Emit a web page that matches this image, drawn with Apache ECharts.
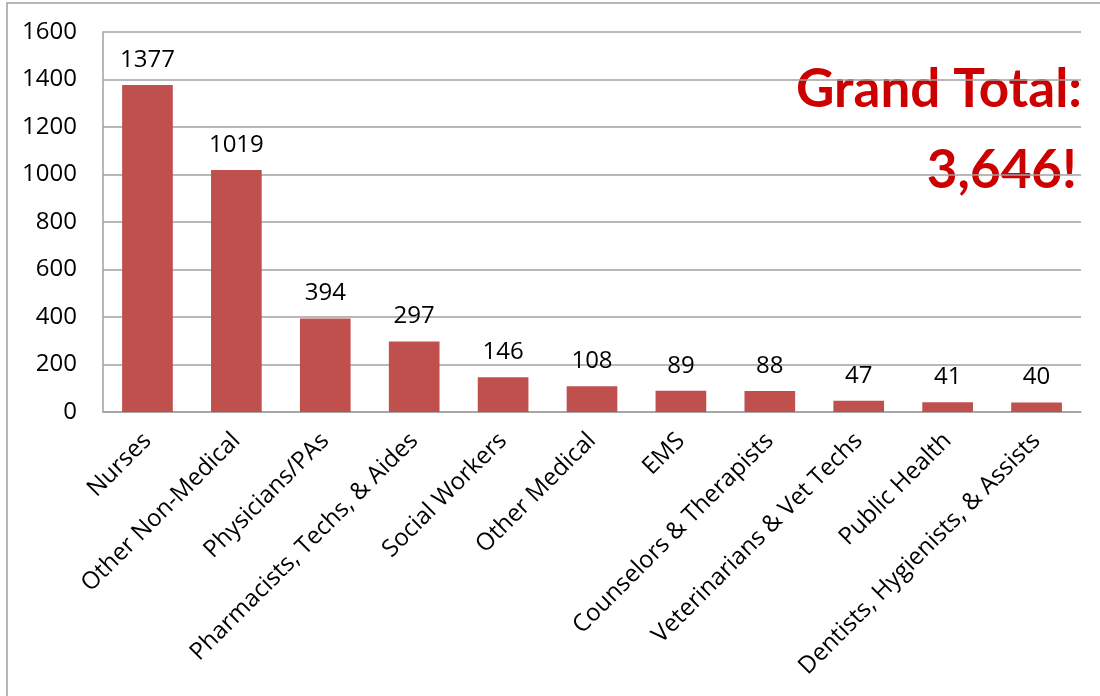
<!DOCTYPE html>
<html>
<head>
<meta charset="utf-8">
<script src="https://cdn.jsdelivr.net/npm/echarts@6/dist/echarts.min.js"></script>
<style>
  html, body { margin: 0; padding: 0; background: #fff; }
  #chart { width: 1100px; height: 696px; }
</style>
</head>
<body>
<div id="chart"></div>
<script>
// categories and counts
const categories = [
  'Nurses', 'Other Non-Medical', 'Physicians/PAs', 'Pharmacists, Techs, & Aides',
  'Social Workers', 'Other Medical', 'EMS', 'Counselors & Therapists',
  'Veterinarians & Vet Techs', 'Public Health', 'Dentists, Hygienists, & Assists'
];
const counts = [1377, 1019, 394, 297, 146, 108, 89, 88, 47, 41, 40];
const totalLines = ['Grand Total:', '3,646!'];

const chart = echarts.init(document.getElementById('chart'));
const font = '"Open Sans", sans-serif';

chart.setOption({
  animation: false,
  backgroundColor: '#fff',
  grid: { left: 103, right: 19, top: 32, bottom: 284, containLabel: false },
  xAxis: {
    type: 'category',
    data: categories,
    axisLine: { show: true, lineStyle: { color: '#a0a0a0', width: 1.5 } },
    axisTick: { show: false },
    axisLabel: {
      interval: 0, rotate: 45, margin: 25,
      color: '#000', fontFamily: font, fontSize: 24
    }
  },
  yAxis: {
    type: 'value',
    min: 0, max: 1600, interval: 200,
    axisLine: { show: true, lineStyle: { color: '#a0a0a0', width: 1.5 } },
    axisTick: { show: false },
    splitLine: { lineStyle: { color: '#a0a0a0', width: 1.5 } },
    axisLabel: {
      margin: 26, color: '#000', fontFamily: font, fontSize: 24,
      formatter: v => String(v)
    }
  },
  series: [{
    type: 'bar',
    data: counts,
    barWidth: '57%',
    itemStyle: { color: '#c0504d' },
    label: {
      show: true, position: 'top', distance: 13,
      color: '#000', fontFamily: font, fontSize: 24
    }
  }],
  graphic: [
    {
      type: 'rect', silent: true, z: -1,
      shape: { x: 7, y: 3, width: 1200, height: 800 },
      style: { fill: 'none', stroke: '#a0a0a0', lineWidth: 1.5 }
    },
    {
      type: 'text', right: 18, top: 63,
      style: {
        text: totalLines[0], fill: '#cc0000',
        font: 'bold 53px Lato, sans-serif'
      }
    },
    {
      type: 'text', right: 23, top: 144,
      style: {
        text: totalLines[1], fill: '#cc0000',
        font: 'bold 53px Lato, sans-serif'
      }
    }
  ]
});
</script>
</body>
</html>
